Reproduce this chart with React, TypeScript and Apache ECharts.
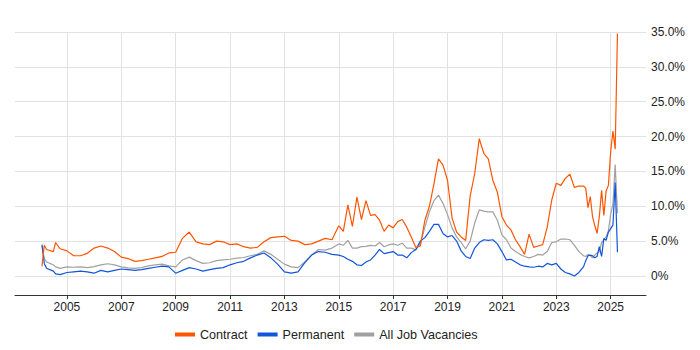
import React, { useEffect, useRef } from "react";
import * as echarts from "echarts";

const dates = [
  "2004-02", "2004-03", "2004-04", "2004-07", "2004-08", "2004-10",
  "2005-01", "2005-04", "2005-07", "2005-10",
  "2006-01", "2006-04", "2006-07", "2006-10",
  "2007-01", "2007-04", "2007-07", "2007-10",
  "2008-01", "2008-04", "2008-07", "2008-10",
  "2009-01", "2009-04", "2009-07", "2009-10",
  "2010-01", "2010-04", "2010-07", "2010-10",
  "2011-01", "2011-04", "2011-07", "2011-10",
  "2012-01", "2012-04", "2012-07", "2012-10",
  "2013-01", "2013-04", "2013-07", "2013-10",
  "2014-01", "2014-04", "2014-07", "2014-10",
  "2015-01", "2015-03", "2015-05", "2015-07", "2015-09", "2015-11",
  "2016-01", "2016-03", "2016-05", "2016-07", "2016-09", "2016-11",
  "2017-01", "2017-03", "2017-05", "2017-07", "2017-09", "2017-11",
  "2018-01", "2018-03", "2018-05", "2018-07", "2018-09", "2018-11",
  "2019-01", "2019-03", "2019-05", "2019-07", "2019-09", "2019-11",
  "2020-01", "2020-03", "2020-05", "2020-07", "2020-09", "2020-11",
  "2021-01", "2021-03", "2021-05", "2021-07", "2021-09", "2021-11",
  "2022-01", "2022-03", "2022-05", "2022-07", "2022-09", "2022-11",
  "2023-01", "2023-03", "2023-05", "2023-07", "2023-09", "2023-11",
  "2024-01", "2024-02", "2024-03", "2024-04", "2024-05", "2024-06",
  "2024-07", "2024-08", "2024-09", "2024-10", "2024-11", "2024-12",
  "2025-01", "2025-02", "2025-03", "2025-04",
];

const contract = [
  1.4, 4.4, 3.8, 3.5, 4.8, 3.9,
  3.6, 2.9, 2.9, 3.25,
  4.0, 4.3, 4.0, 3.5,
  2.7, 2.5, 2.1, 2.2,
  2.4, 2.6, 2.8, 3.3,
  3.4, 5.4, 6.3, 4.9,
  4.6, 4.5, 5.0, 4.9,
  4.5, 4.6, 4.2, 4.0,
  4.1, 4.9, 5.5, 5.6,
  5.7, 5.1, 5.0, 4.5,
  4.6, 5.0, 5.4, 5.2,
  7.2, 6.4, 10.2, 7.1, 11.3, 8.1,
  10.8, 8.7, 8.8, 8.0, 6.4, 7.3,
  6.9, 7.8, 8.1, 7.0, 5.6, 4.1,
  4.3, 8.0, 10.0, 13.2, 16.8, 15.9,
  13.7, 8.3, 6.3, 5.6, 5.1, 11.5,
  14.7, 19.7, 17.6, 16.8, 13.7, 12.0,
  8.5, 7.3, 6.6, 5.2, 4.2, 3.1,
  6.0, 4.1, 4.3, 4.5, 7.0, 10.9,
  13.3, 13.0, 14.0, 14.6, 12.7, 12.9,
  12.9, 12.6, 9.8, 11.4, 8.5, 7.2,
  6.1, 8.5, 12.3, 8.7, 12.2, 13.0,
  17.8, 20.8, 18.2, 34.8,
];

const permanent = [
  4.5, 1.8, 1.1, 0.7, 0.3, 0.2,
  0.5, 0.6, 0.7, 0.6,
  0.4, 0.8, 0.6, 0.8,
  1.0, 0.9, 0.8, 0.9,
  1.1, 1.25, 1.4, 1.3,
  0.4, 0.8, 1.2, 1.0,
  0.7, 0.9, 1.1, 1.2,
  1.6, 1.9, 2.1, 2.6,
  3.0, 3.3, 2.6, 1.7,
  0.6, 0.4, 0.6, 1.9,
  3.0, 3.5, 3.4, 3.1,
  3.0, 2.8, 2.4, 2.1, 1.6, 1.5,
  2.0, 2.3, 3.0, 3.8, 3.2, 3.35,
  3.5, 3.0, 3.0, 2.6, 3.35, 3.8,
  5.0, 5.5, 6.4, 7.4, 7.4, 6.1,
  5.6, 5.8, 5.0, 3.6, 2.8, 2.5,
  4.0, 4.8, 5.2, 5.1, 5.2, 4.6,
  3.5, 2.3, 2.4, 2.0, 1.6, 1.4,
  1.3, 1.25, 1.4, 1.3, 1.8, 1.6,
  1.8, 1.0, 0.5, 0.3, 0.0, 0.5,
  1.3, 2.2, 2.9, 3.0, 2.9, 2.6,
  2.8, 4.2, 2.8, 5.4, 5.1, 6.3,
  6.8, 7.3, 13.4, 3.4,
];

const allJobs = [
  4.3, 2.5, 2.0, 1.6, 1.3, 1.1,
  1.3, 1.25, 1.3, 1.2,
  1.35, 1.6, 1.75, 1.6,
  1.3, 1.15, 1.1, 1.2,
  1.45, 1.6, 1.7, 1.45,
  1.3, 2.3, 2.7, 2.2,
  1.8, 1.9, 2.2, 2.3,
  2.4, 2.55, 2.65, 2.9,
  3.1, 3.6, 3.1, 2.4,
  1.7, 1.3, 1.2, 2.0,
  3.0, 3.8, 3.7, 4.0,
  4.6, 4.4, 5.1, 4.0, 4.0, 4.2,
  4.25, 4.4, 4.3, 4.8, 4.2, 4.45,
  4.6, 4.4, 4.7, 4.0, 4.0, 3.75,
  4.6, 7.0, 9.2, 10.8, 11.6, 10.4,
  8.8, 6.9, 5.6, 4.8, 3.9, 5.0,
  7.6, 9.5, 9.3, 9.2, 9.2, 8.0,
  5.9, 5.2, 4.0, 3.5, 3.1, 2.8,
  2.6, 2.8, 3.1, 3.0, 3.5, 4.8,
  4.9, 5.3, 5.3, 5.2, 4.4, 3.5,
  2.9, 2.8, 3.1, 2.9, 2.6, 3.0,
  3.3, 3.5, 4.8, 5.2, 5.6, 6.5,
  8.8, 10.3, 16.0, 9.0,
];

const seriesNames = ["Contract", "Permanent", "All Job Vacancies"];
const seriesColors = ["#ff5500", "#1155dd", "#a0a0a0"];
const xTicks = [2005, 2007, 2009, 2011, 2013, 2015, 2017, 2019, 2021, 2023, 2025];
const yTicks = [0, 5, 10, 15, 20, 25, 30, 35];

function toYear(d: string): number {
  const [y, m] = d.split("-").map(Number);
  return y + (m - 1) / 12;
}

const FONT = "'Liberation Sans', Arial, sans-serif";

export default function App() {
  const ref = useRef<HTMLDivElement>(null);

  useEffect(() => {
    if (!ref.current) return;
    document.body.style.margin = "0";
    const chart = echarts.init(ref.current, undefined, { renderer: "svg" });
    const values = [contract, permanent, allJobs];
    const zs = [3, 2, 1];
    chart.setOption({
      animation: false,
      grid: { left: 15, right: 54, top: 32, bottom: 55, containLabel: false },
      legend: {
        data: seriesNames,
        left: 175,
        top: 328,
        padding: 0,
        icon: "rect",
        itemWidth: 20,
        itemHeight: 4,
        itemGap: 10,
        textStyle: { fontSize: 12.6, color: "#222", fontFamily: FONT },
      },
      xAxis: {
        type: "value",
        min: 2003.09,
        max: 2026.3,
        axisLine: { show: true, onZero: false, lineStyle: { color: "#333", width: 1 } },
        axisTick: { show: true, length: 4, customValues: xTicks, lineStyle: { color: "#333" } },
        axisLabel: {
          customValues: xTicks,
          formatter: (v: number) => String(Math.round(v)),
          color: "#222",
          fontSize: 12,
          fontFamily: FONT,
          margin: 6,
        },
        splitLine: { show: true, lineStyle: { color: "#e2e2e2", width: 1 } },
      },
      yAxis: {
        type: "value",
        position: "right",
        min: -2.73,
        max: 35,
        axisLine: { show: false },
        axisTick: { show: false, customValues: yTicks },
        axisLabel: {
          customValues: yTicks,
          formatter: (v: number) => (v === 0 ? "0%" : v.toFixed(1) + "%"),
          color: "#222",
          fontSize: 12,
          fontFamily: FONT,
          margin: 5,
        },
        splitLine: { show: true, lineStyle: { color: "#e2e2e2", width: 1 } },
      },
      series: seriesNames.map((name, k) => ({
        name,
        type: "line",
        data: dates.map((d, i) => [toYear(d), values[k][i]]),
        showSymbol: false,
        symbol: "none",
        z: zs[k],
        lineStyle: { color: seriesColors[k], width: 1.2 },
        itemStyle: { color: seriesColors[k] },
      })),
    });
    return () => chart.dispose();
  }, []);

  return (
    <div
      ref={ref}
      style={{ position: "absolute", left: 0, top: 0, width: 700, height: 350 }}
    />
  );
}
